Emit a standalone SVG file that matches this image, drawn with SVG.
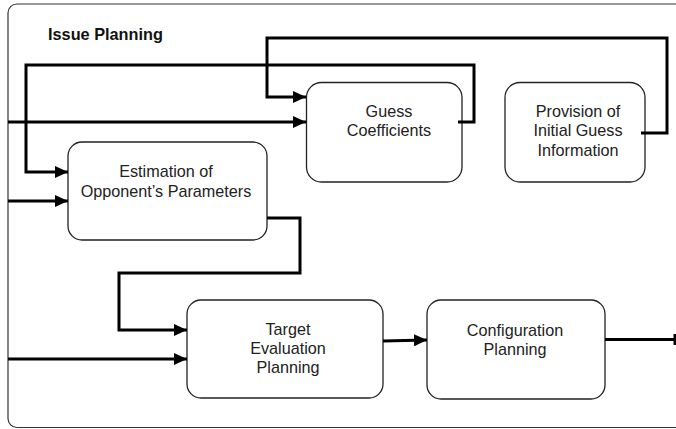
<svg xmlns="http://www.w3.org/2000/svg" width="676" height="429" viewBox="0 0 676 429">
<style>
.frame{fill:#fff;stroke:#333;stroke-width:1.2}
.box{fill:#fff;stroke:#222;stroke-width:1.3}
.t{font-family:"Liberation Sans",Arial,sans-serif;font-size:16.2px;fill:#222;text-anchor:middle}
.title{font-family:"Liberation Sans",Arial,sans-serif;font-size:16.3px;font-weight:bold;fill:#111}
.c{fill:none;stroke:#000;stroke-width:3;stroke-linejoin:miter}
</style>
<defs>
<marker id="ah" markerUnits="userSpaceOnUse" markerWidth="13" markerHeight="12" refX="13" refY="6" orient="auto">
<path d="M0,0 L13,6 L0,12 Z" fill="#000"/>
</marker>
</defs>
<rect class="frame" x="8" y="4" width="700" height="423.5" rx="9"/>
<text class="title" x="48" y="40">Issue Planning</text>
<g id="guess">
<rect class="box" x="306.5" y="82.5" width="155.5" height="99.5" rx="15"/>
<text class="t" x="389" y="117">Guess</text>
<text class="t" x="389" y="136">Coefficients</text>
</g>
<g id="provision">
<rect class="box" x="505" y="82.5" width="140" height="99.5" rx="15"/>
<text class="t" x="578" y="117">Provision of</text>
<text class="t" x="578" y="136">Initial Guess</text>
<text class="t" x="578" y="156">Information</text>
</g>
<g id="estimation">
<rect class="box" x="68" y="142" width="199" height="98" rx="14"/>
<text class="t" x="166" y="177">Estimation of</text>
<text class="t" x="166" y="197">Opponent’s Parameters</text>
</g>
<g id="target">
<rect class="box" x="187" y="300" width="196" height="98" rx="14"/>
<text class="t" x="288" y="335">Target</text>
<text class="t" x="288" y="354">Evaluation</text>
<text class="t" x="288" y="373">Planning</text>
</g>
<g id="configuration">
<rect class="box" x="427" y="300" width="178" height="99" rx="14"/>
<text class="t" x="515" y="336">Configuration</text>
<text class="t" x="515" y="355">Planning</text>
</g>
<g id="connectors">
<path class="c" d="M641,133 H667 V38 H267 V97 H306" marker-end="url(#ah)"/>
<path class="c" d="M458,122 H474 V65 H26 V172 H68" marker-end="url(#ah)"/>
<path class="c" d="M8,122 H306" marker-end="url(#ah)"/>
<path class="c" d="M8,201 H68" marker-end="url(#ah)"/>
<path class="c" d="M267,218 H300 V273 H119 V330 H187" marker-end="url(#ah)"/>
<path class="c" d="M8,359 H187" marker-end="url(#ah)"/>
<path class="c" d="M383,341 L427,340" marker-end="url(#ah)"/>
<path class="c" d="M605,339.5 H675"/>
<path class="c" d="M675,334 V345"/>
</g>
</svg>
